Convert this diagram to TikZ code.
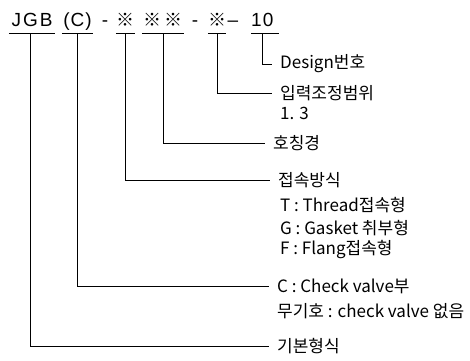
\documentclass[tikz,border=0pt]{standalone}
\usepackage{fontspec}
\setmainfont{Noto Sans CJK KR}
\newfontfamily\codefont{Liberation Sans}
\newfontfamily\markfont{Noto Sans CJK KR}
\usetikzlibrary{positioning}

\begin{document}
\begin{tikzpicture}[x=1pt, y=-1pt,
      % Node styles
      code part/.style={
          inner sep=0pt, text height=14pt, text depth=7pt, anchor=base,
          font=\codefont\fontsize{19}{19}\selectfont,
        },
      mark part/.style={
          code part, font=\markfont\fontsize{18}{18}\selectfont,
        },
      label text/.style={
          anchor=west, inner xsep=8pt, inner ysep=1pt,
          font=\fontsize{17}{19}\selectfont,
        },
      detail text/.style={
          label text, inner xsep=0pt,
        },
      % Line styles
      link/.style={draw, line width=0.9pt},
      under line/.style={draw, line width=0.9pt},
    ]
    \useasboundingbox (0,0) rectangle (470,360);

    % --- Model code on top ---
    \node[code part, minimum width=46pt] (jgb) at (32,26) {J\kern2pt G\kern2pt B};
    \node[code part, minimum width=31pt] (chk) at (77.5,26) {(\kern1pt C\kern1pt)};
    \node[code part] (dash1) at (105,26) {-};
    \node[mark part, minimum width=19pt] (conn) at (125.5,26) {※};
    \node[mark part, minimum width=42pt] (size) at (163,26) {※\,※};
    \node[code part] (dash2) at (195,26) {-};
    \node[mark part, minimum width=18pt] (press) at (217,26) {※};
    \node[code part] (dash3) at (233,26) {–};
    \node[code part, anchor=base west] (ten) at (251,26) {1\kern1pt 0};

    \foreach \n in {jgb,chk,conn,size,press} {
        \draw[under line] (\n.south west) -- (\n.south east);
      }
    \draw[under line] (ten.south west) -- ++(28,0);

    % --- Labels on the right ---
    \node[label text] (design) at (272,64) {Design번호};
    \node[label text] (press label) at (272,93) {입력조정범위};
    \node[detail text] (press range) at (280,113) {1. 3};
    \node[label text] (size label) at (265,143) {호칭경};
    \node[label text] (conn label) at (270,180) {접속방식};
    \foreach \txt/\y/\k in {T : Thread접속형/205/T, G : Gasket 취부형/228/G, F : Flang접속형/250/F} {
        \node[detail text] (conn \k) at (280,\y) {\txt};
      }
    \node[label text] (check) at (269,286) {C : Check valve부};
    \node[detail text] (check none) at (277,311) {무기호 : check valve 없음};
    \node[label text] (basic) at (269,346) {기본형식};

    % --- Connectors ---
    \draw[link] ([xshift=11pt]ten.south west) |- (design.west);
    \draw[link] (press.south) |- (press label.west);
    \draw[link] (size.south) |- (size label.west);
    \draw[link] (conn.south) |- (conn label.west);
    \draw[link] (chk.south) |- (check.west);
    \draw[link] ([xshift=-2pt]jgb.south) |- (basic.west);

  \end{tikzpicture}
\end{document}
